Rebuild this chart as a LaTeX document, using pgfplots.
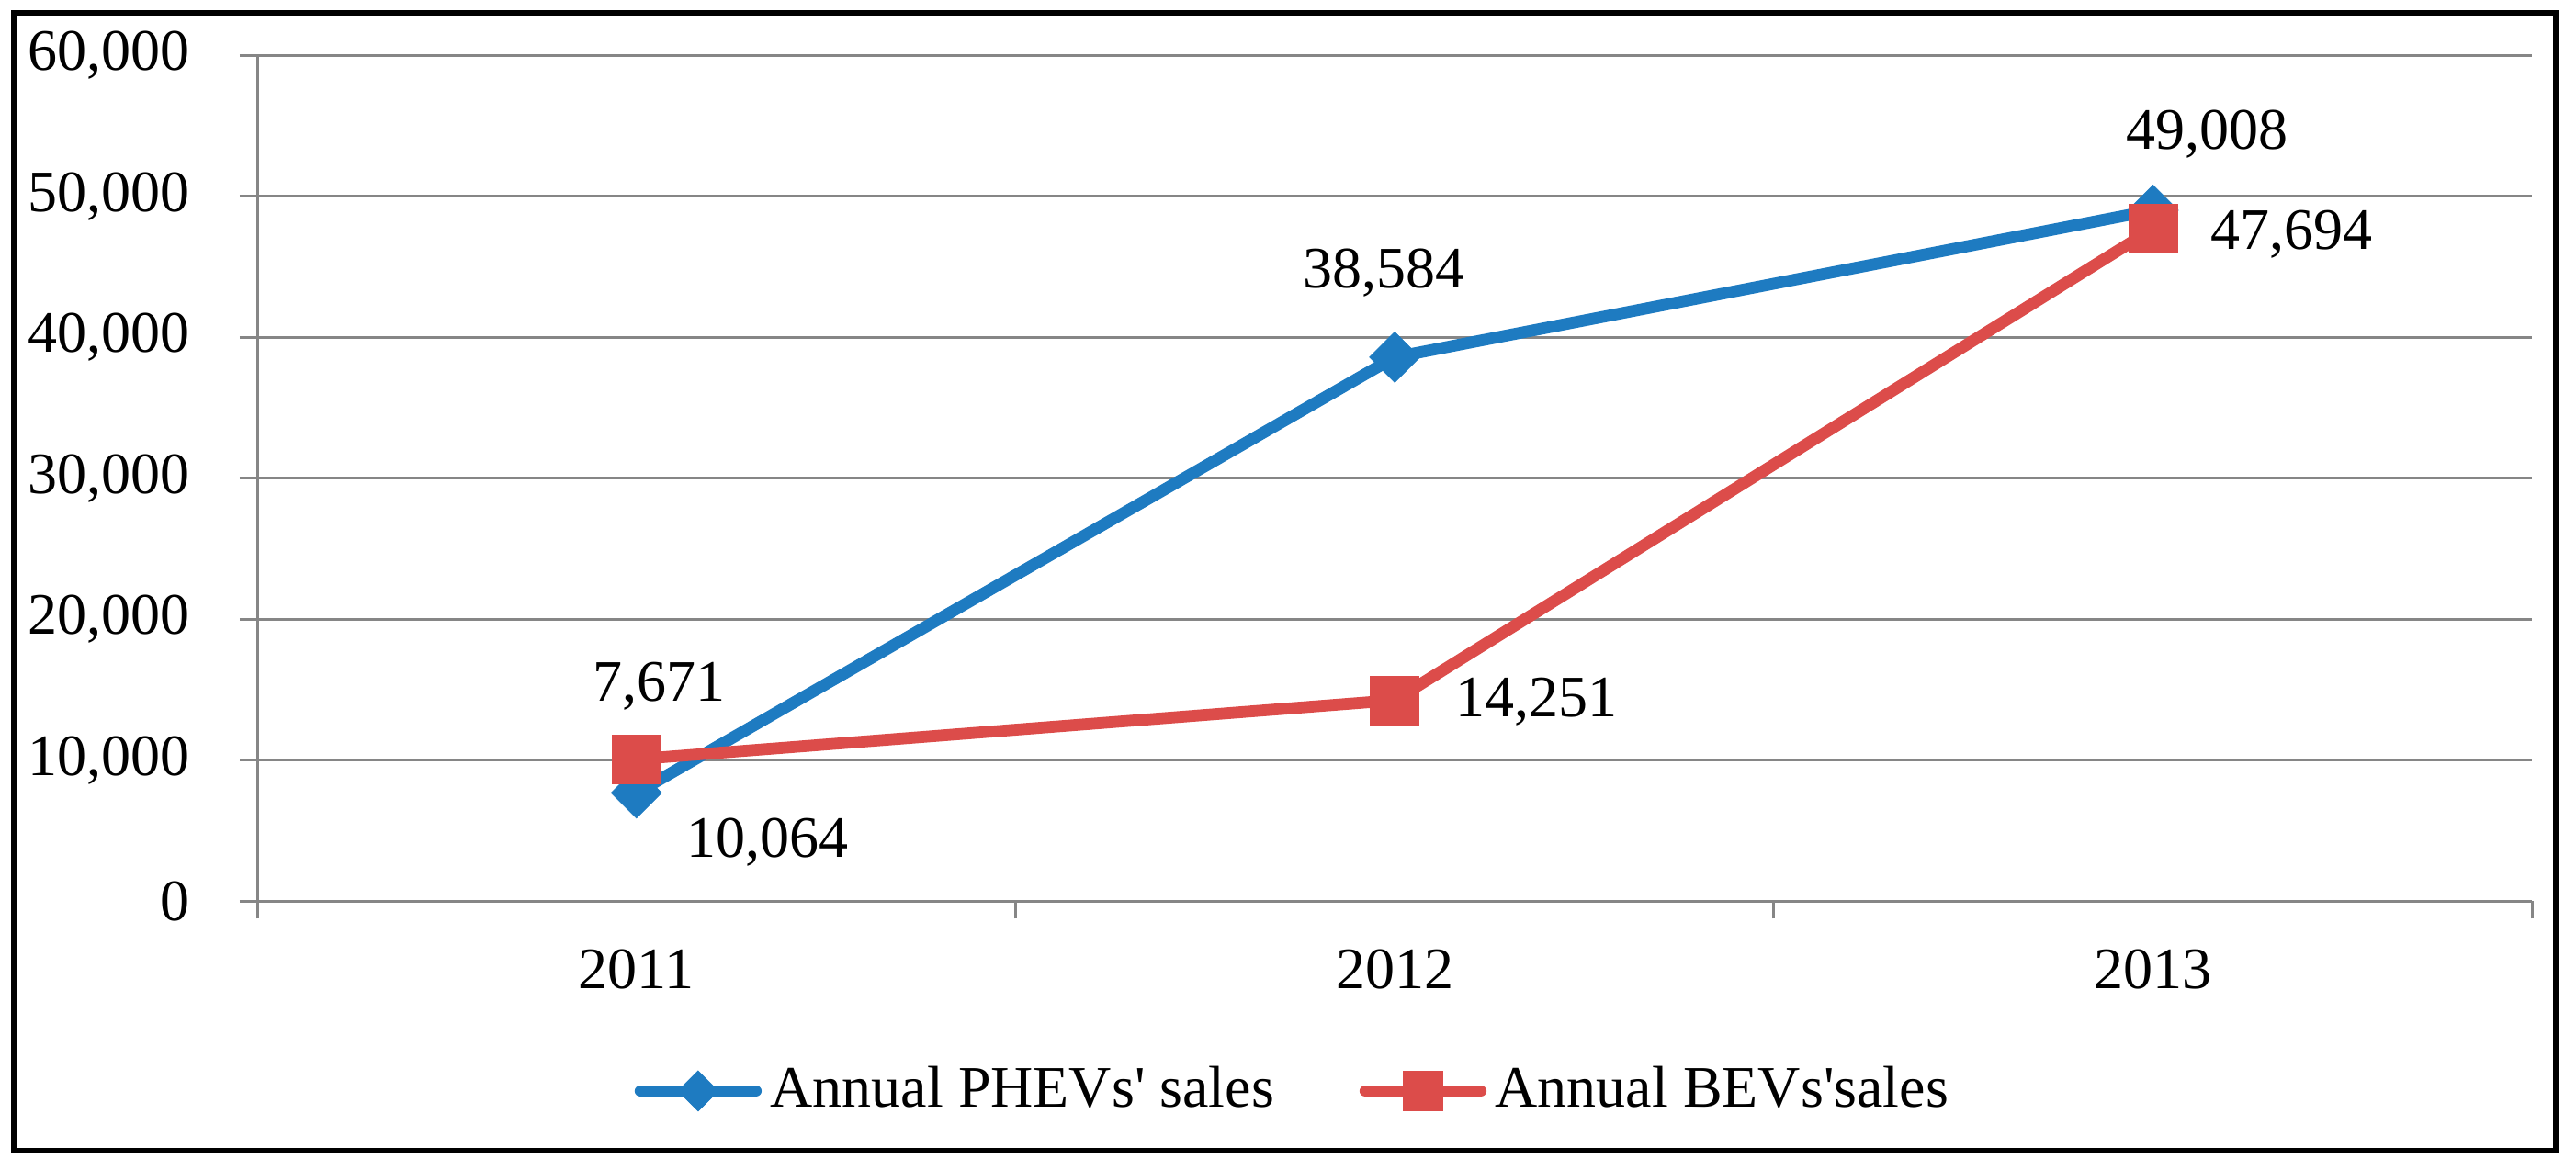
\documentclass[border=0pt]{standalone}
\usepackage{fontspec}
\setmainfont{Liberation Serif}
\usepackage{pgfplots}
\pgfplotsset{compat=1.18}
\definecolor{phev}{RGB}{30,123,193}
\definecolor{bev}{RGB}{220,76,74}
\definecolor{gridc}{RGB}{134,134,134}
\begin{document}
\fontsize{10}{12}\selectfont
\begin{tikzpicture}[font=\fontsize{10}{12}\selectfont]
\useasboundingbox (0,0) rectangle (438.1pt,198.9pt);
\draw[line width=0.95pt] (2.34pt,3.1pt) rectangle (434.7pt,196.7pt);
\begin{axis}[
  at={(43.75pt,45.6pt)}, anchor=south west,
  scale only axis, width=386.9pt, height=143.9pt,
  xmin=-0.5, xmax=2.5, ymin=0, ymax=60000,
  clip=false,
  axis x line*=bottom, axis y line*=left,
  axis line style={draw=gridc, line width=0.47pt, -},
  xtick={0,1,2}, xticklabels={2011,2012,2013},
  xticklabel style={yshift=-1.7pt},
  minor xtick={-0.5,0.5,1.5,2.5},
  major x tick style={draw=none},
  minor x tick style={draw=gridc, line width=0.47pt},
  ytick={0,10000,...,60000},
  y tick style={draw=gridc, line width=0.47pt},
  major tick length=3pt, minor tick length=3pt,
  tick align=outside,
  ymajorgrids, grid style={draw=gridc, line width=0.47pt},
  scaled y ticks=false,
  /pgf/number format/1000 sep={,},
  /pgf/number format/assume math mode=true,
  yticklabel style={xshift=-4.9pt},
  legend style={at={(0.4566,-0.2245)}, anchor=center, draw=none, fill=none,
    legend columns=2, /tikz/every even column/.append style={column sep=13pt},
    inner sep=0pt, legend cell align=left,
    nodes={inner sep=1.5pt}},
  legend image code/.code={
    \draw[#1, mark=none, line cap=round] (0pt,0pt) -- (19.6pt,0pt);
    \draw[#1, only marks, every mark/.append style={scale=0.8}] plot coordinates {(9.8pt,0pt)};
  },
]
\addplot[phev, line width=2pt, mark=square*, mark size=3.04pt,
  mark options={rotate=45, solid, line width=0.1pt}] coordinates {(0,7671) (1,38584) (2,49008)};
\addlegendentry{Annual PHEVs\textquotesingle{} sales}
\addplot[bev, line width=2pt, mark=square*, mark size=4.15pt,
  mark options={solid, line width=0.1pt}] coordinates {(0,10064) (1,14251) (2,47694)};
\addlegendentry{Annual BEVs\textquotesingle sales}
\node[anchor=base] at (axis cs:0.03,14202) {7,671};
\node[anchor=base] at (axis cs:0.1725,3127) {10,064};
\node[anchor=base] at (axis cs:0.986,43518) {38,584};
\node[anchor=base] at (axis cs:1.1867,13094) {14,251};
\node[anchor=base] at (axis cs:2.071,53355) {49,008};
\node[anchor=base] at (axis cs:2.1827,46254) {47,694};
\end{axis}
\end{tikzpicture}
\end{document}
